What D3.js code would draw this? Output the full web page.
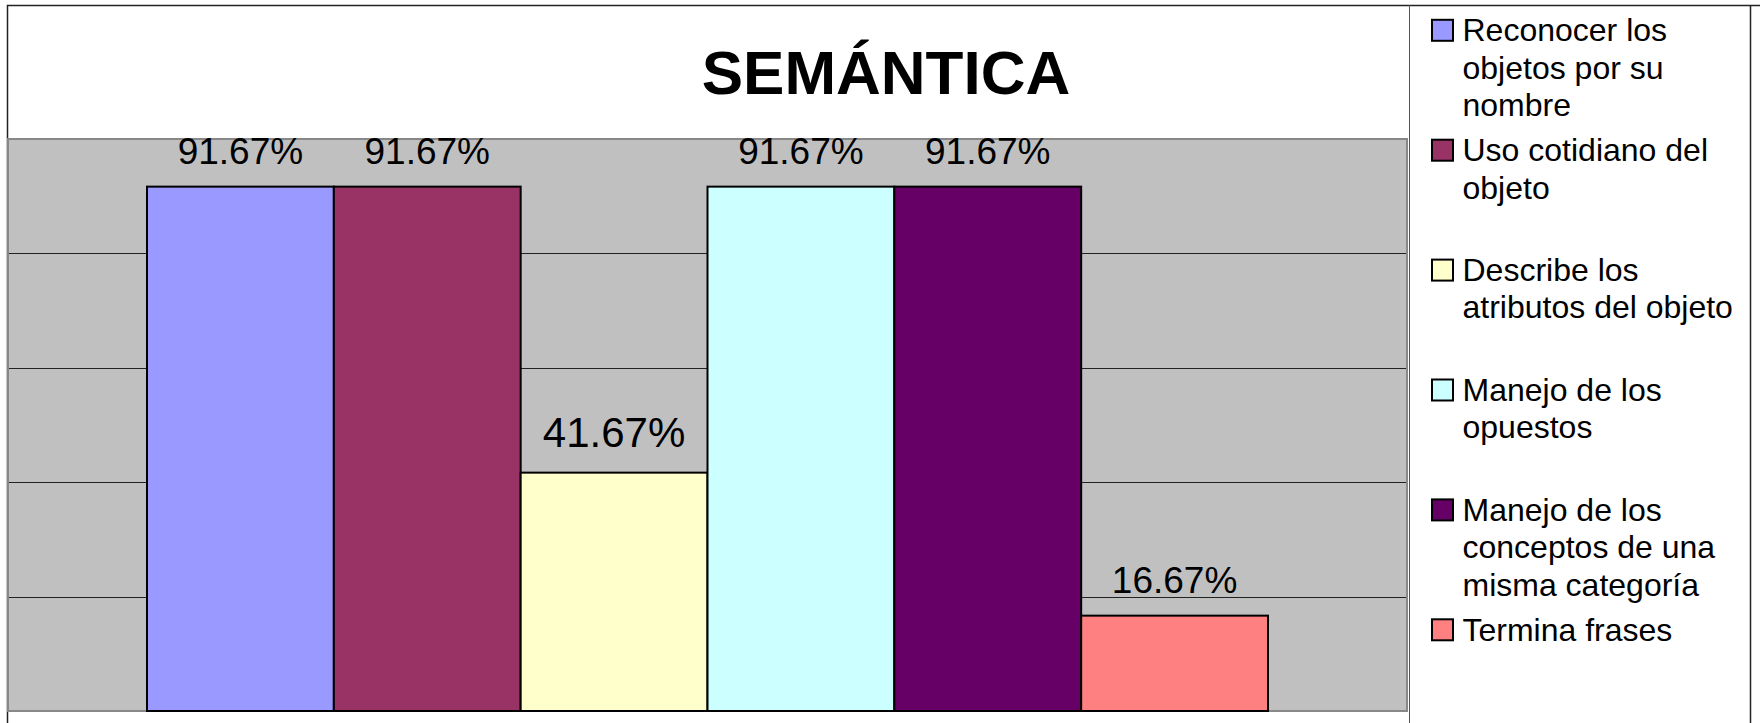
<!DOCTYPE html>
<html>
<head>
<meta charset="utf-8">
<script src="https://cdn.jsdelivr.net/npm/d3@7"></script>
<style>
  body { margin: 0; background: #fff; }
  svg { display: block; font-family: "Liberation Sans", Arial, sans-serif; }
</style>
</head>
<body>
<div id="chart"></div>
<script>
const chartTitle = "SEMÁNTICA";
const seriesNames = [
  ["Reconocer los", "objetos por su", "nombre"],
  ["Uso cotidiano del", "objeto"],
  ["Describe los", "atributos del objeto"],
  ["Manejo de los", "opuestos"],
  ["Manejo de los", "conceptos de una", "misma categoría"],
  ["Termina frases"]
];
const seriesValues = [91.67, 91.67, 41.67, 91.67, 91.67, 16.67];
const seriesLabels = ["91.67%", "91.67%", "41.67%", "91.67%", "91.67%", "16.67%"];
const seriesColors = ["#9999ff", "#993366", "#ffffcc", "#ccffff", "#660066", "#ff8080"];
const gridTicks = [0, 20, 40, 60, 80, 100];

const W = 1760, H = 723;
const plot = {left: 8, right: 1407, top: 139, bottom: 711};

const svg = d3.select("#chart").append("svg")
  .attr("width", W)
  .attr("height", H);

// outer frame and legend divider
svg.append("rect")
  .attr("x", 7.5).attr("y", 5.5)
  .attr("width", 1760).attr("height", 740)
  .attr("fill", "none").attr("stroke", "#222").attr("stroke-width", 1.5);
svg.append("line")
  .attr("x1", 1750.5).attr("x2", 1750.5).attr("y1", 5).attr("y2", H)
  .attr("stroke", "#222").attr("stroke-width", 1.5);
svg.append("line")
  .attr("x1", 1409.5).attr("x2", 1409.5).attr("y1", 5).attr("y2", H)
  .attr("stroke", "#555").attr("stroke-width", 1);

var x = d3.scaleBand()
  .domain(d3.range(seriesValues.length))
  .range([plot.left, plot.right])
  .paddingInner(0)
  .paddingOuter(0.744);

var y = d3.scaleLinear()
  .domain([0, 100])
  .range([plot.bottom, plot.top]);

// plot background
svg.append("rect")
  .attr("x", plot.left).attr("y", plot.top)
  .attr("width", plot.right - plot.left).attr("height", plot.bottom - plot.top)
  .attr("fill", "#c0c0c0");

svg.append("g")
  .selectAll("line")
  .data(gridTicks.slice(1, -1))
  .join("line")
  .attr("x1", plot.left).attr("x2", plot.right)
  .attr("y1", d => Math.round(y(d)) + 0.5)
  .attr("y2", d => Math.round(y(d)) + 0.5)
  .attr("stroke", "#222").attr("stroke-width", 1);

svg.append("rect")
  .attr("x", plot.left).attr("y", plot.top)
  .attr("width", plot.right - plot.left).attr("height", plot.bottom - plot.top)
  .attr("fill", "none").attr("stroke", "#888").attr("stroke-width", 2);

// bars
svg.append("g")
  .selectAll("rect")
  .data(seriesValues)
  .join("rect")
  .attr("x", (d, i) => x(i))
  .attr("y", d => y(d))
  .attr("width", x.bandwidth())
  .attr("height", d => y(0) - y(d))
  .attr("fill", (d, i) => seriesColors[i])
  .attr("stroke", "#000")
  .attr("stroke-width", 2);

// value labels
svg.append("g")
  .selectAll("text")
  .data(seriesValues)
  .join("text")
  .attr("x", (d, i) => x(i) + x.bandwidth() / 2)
  .attr("y", d => y(d) - (d < 50 && d > 30 ? 26 : 23))
  .attr("text-anchor", "middle")
  .attr("font-size", d => (d < 50 && d > 30 ? 42 : 37))
  .attr("fill", "#000")
  .text((d, i) => seriesLabels[i]);

// title
svg.append("text")
  .attr("x", 886).attr("y", 94)
  .attr("text-anchor", "middle")
  .attr("font-size", 62)
  .attr("font-weight", "bold")
  .text(chartTitle);

// legend
const legendStep = 119.9, legendTop = 30.3, lineH = 37.4;
var leg = svg.append("g")
  .selectAll("g")
  .data(seriesNames)
  .join("g")
  .attr("transform", (d, i) => "translate(0," + (legendTop + i * legendStep) + ")");

leg.append("rect")
  .attr("x", 1432).attr("y", -10.5)
  .attr("width", 21).attr("height", 21)
  .attr("fill", (d, i) => seriesColors[i])
  .attr("stroke", "#000").attr("stroke-width", 2);

leg.append("text")
  .attr("x", 1462.5)
  .attr("font-size", 32)
  .attr("fill", "#000")
  .selectAll("tspan")
  .data(d => d)
  .join("tspan")
  .attr("x", 1462.5)
  .attr("y", (d, j) => j * lineH + 11)
  .text(d => d);
</script>
</body>
</html>
